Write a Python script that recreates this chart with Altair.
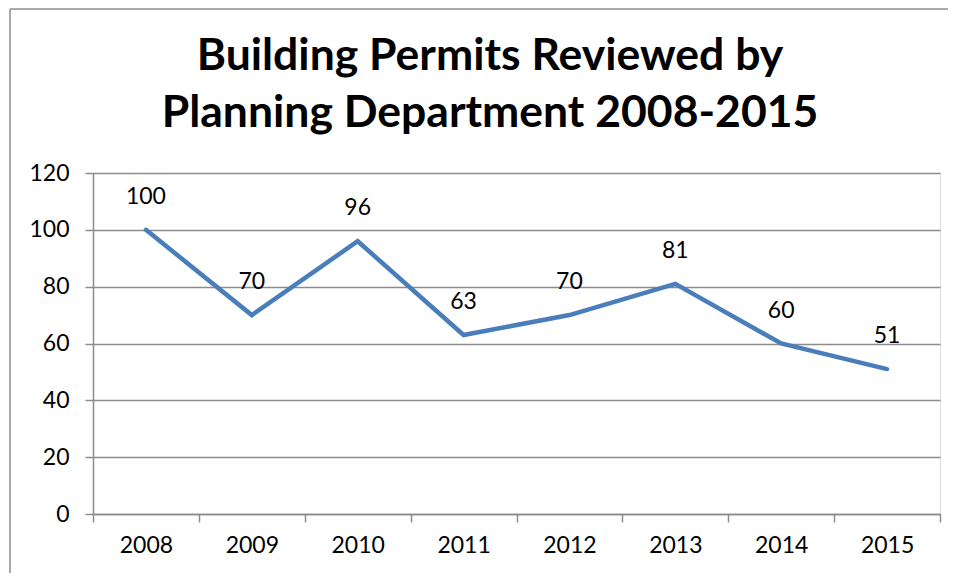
import altair as alt
import pandas as pd

years = ["2008", "2009", "2010", "2011", "2012", "2013", "2014", "2015"]
permits = [100, 70, 96, 63, 70, 81, 60, 51]
title_lines = ["Building Permits Reviewed by", "Planning Department 2008-2015"]
y_ticks = [0, 20, 40, 60, 80, 100, 120]

df = pd.DataFrame({"year": years, "permits": permits})

FONT = "Lato"
GRAY = "#8c8c8c"
BLUE = "#4a7ebb"

x_enc = alt.X(
    "year:O",
    bandPosition=0.5,
    scale=alt.Scale(type="band", paddingInner=0, paddingOuter=0),
    axis=alt.Axis(
        title=None,
        labelAngle=0,
        labelFont=FONT,
        labelFontSize=23,
        labelColor="#000000",
        labelPadding=12,
        tickBand="extent",
        tickColor=GRAY,
        tickSize=8,
        tickWidth=1.5,
        domainColor=GRAY,
        domainWidth=1.5,
        grid=False,
    ),
)
y_enc = alt.Y(
    "permits:Q",
    scale=alt.Scale(domain=[0, 120], nice=False),
    axis=alt.Axis(
        title=None,
        values=y_ticks,
        labelFont=FONT,
        labelFontSize=23,
        labelColor="#000000",
        labelPadding=16,
        tickColor=GRAY,
        tickSize=8,
        tickWidth=1.5,
        domainColor=GRAY,
        domainWidth=1.5,
        gridColor=GRAY,
        gridWidth=1.5,
    ),
)

base = alt.Chart(df)

line = base.mark_line(color=BLUE, strokeWidth=4.5, strokeCap="round", strokeJoin="miter").encode(
    x=x_enc, y=y_enc
)
labels = base.mark_text(
    font=FONT, fontSize=23, color="#000000", baseline="alphabetic", dy=-26
).encode(x=x_enc, y=y_enc, text="permits:Q")

title_df = pd.DataFrame({"t": ["\n".join(title_lines)]})
title = alt.Chart(title_df).mark_text(
    font=FONT,
    fontSize=44.5,
    fontWeight="bold",
    color="#000000",
    align="center",
    baseline="alphabetic",
    lineBreak="\n",
    lineHeight=57,
).encode(text="t:N", x=alt.value(397), y=alt.value(-103))

frame_df = pd.DataFrame({"k": [0]})
frame_top = alt.Chart(frame_df).mark_rule(color=GRAY, strokeWidth=1.5).encode(
    x=alt.value(-83), x2=alt.value(855), y=alt.value(-164)
)
frame_left = alt.Chart(frame_df).mark_rule(color=GRAY, strokeWidth=1.5).encode(
    x=alt.value(-83), y=alt.value(-164), y2=alt.value(400)
)

chart = (
    alt.layer(frame_top, frame_left, title, line, labels)
    .properties(width=847, height=341, padding={"left": 1, "top": 0, "right": 0, "bottom": 0})
    .configure_view(stroke=None)
    .configure(background="#ffffff")
)

chart.save("out.html", embed_options={"renderer": "svg", "actions": False})
